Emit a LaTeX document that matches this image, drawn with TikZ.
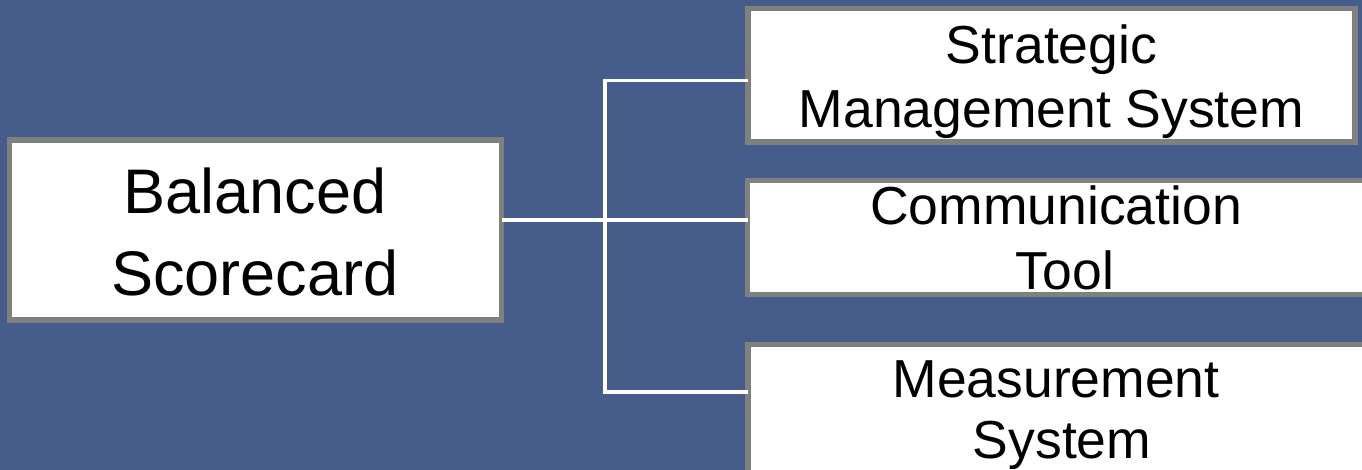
\documentclass[tikz,border=0pt]{standalone}
\usepackage{fontspec}
\setmainfont{Liberation Sans}
\definecolor{bgblue}{HTML}{465D8B}
\definecolor{boxgray}{HTML}{808080}
\tikzset{
  box/.style={draw=boxgray, fill=white, line width=5.5pt, inner sep=0pt, outer sep=0pt, rectangle},
  conn/.style={draw=white, line width=3.2pt},
  bigtxt/.style={anchor=base, inner sep=0pt, font=\fontsize{63}{76}\selectfont},
  smalltxt/.style={anchor=base, inner sep=0pt, font=\fontsize{53.5}{64}\selectfont},
}
\begin{document}
\begin{tikzpicture}[x=1pt, y=-1pt]
\fill[bgblue] (0,0) rectangle (1362,470);
\useasboundingbox (0,0) rectangle (1362,470);
% connectors
\coordinate (ttop) at (605,80.5);
\coordinate (tbot) at (605,394);
\coordinate (j) at (605,220);
\coordinate (bl) at (607,392);
% boxes
\node[box, minimum width=492pt, minimum height=180pt] (sc) at (255.5,230) {};
\node[box, minimum width=607pt, minimum height=133.5pt] (sms) at (1051.5,75.25) {};
\node[box, minimum width=618.5pt, minimum height=114pt] (ct) at (1056.75,237.5) {};
\node[box, minimum width=618pt, minimum height=135.5pt] (ms) at (1057,412.25) {};
\draw[conn] (tbot) -- (ttop) -- (sms.west |- ttop);
\draw[conn] (sc.east |- j) -- (ct.west |- j);
\draw[conn] (bl) -- (ms.west |- bl);
% texts
\node[bigtxt] (t1) at (255,214) {Balanced};
\node[bigtxt] (t2) at (255,295) {Scorecard};
\node[smalltxt] (t3) at (1051.5,64) {Strategic};
\node[smalltxt] (t4) at (1051.5,128) {Management System};
\node[smalltxt] (t5) at (1056,225) {Communication};
\node[smalltxt] (t6) at (1065,289) {Tool};
\node[smalltxt] (t7) at (1056,397) {Measurement};
\node[smalltxt] (t8) at (1062,458) {System};
\end{tikzpicture}
\end{document}
